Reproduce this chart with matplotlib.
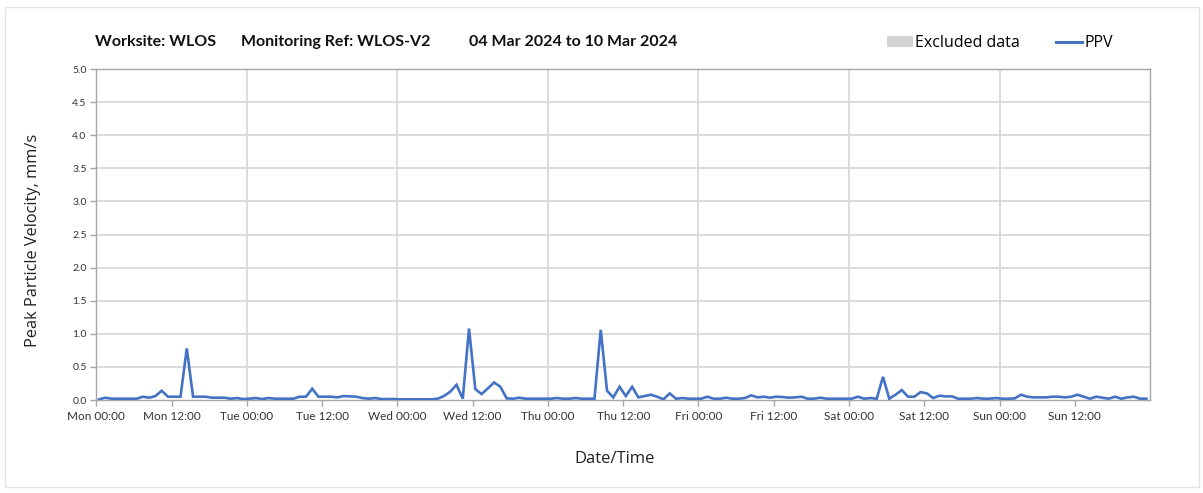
import matplotlib
matplotlib.use("Agg")
import matplotlib.pyplot as plt
import matplotlib.dates as mdates
from matplotlib.patches import Patch, Rectangle
from matplotlib.lines import Line2D
import pandas as pd


# hourly PPV readings, mm/s (one list per day, 24 values each)
ppv_mon = [0.01, 0.035, 0.02, 0.02, 0.02, 0.02, 0.02, 0.05, 0.035, 0.06, 0.14, 0.05,
           0.05, 0.05, 0.78, 0.05, 0.05, 0.05, 0.035, 0.035, 0.035, 0.02, 0.03, 0.015]
ppv_tue = [0.02, 0.03, 0.015, 0.03, 0.02, 0.02, 0.02, 0.02, 0.05, 0.05, 0.17, 0.05,
           0.05, 0.05, 0.04, 0.06, 0.055, 0.05, 0.03, 0.02, 0.03, 0.015, 0.015, 0.015]
ppv_wed = [0.01, 0.01, 0.01, 0.01, 0.01, 0.01, 0.02, 0.06, 0.125, 0.23, 0.02, 1.08,
           0.165, 0.09, 0.175, 0.265, 0.2, 0.025, 0.02, 0.035, 0.02, 0.02, 0.02, 0.02]
ppv_thu = [0.02, 0.03, 0.02, 0.02, 0.03, 0.02, 0.02, 0.02, 1.06, 0.14, 0.04, 0.2,
           0.06, 0.2, 0.04, 0.06, 0.08, 0.05, 0.01, 0.1, 0.02, 0.03, 0.02, 0.02]
ppv_fri = [0.02, 0.05, 0.02, 0.02, 0.035, 0.02, 0.02, 0.03, 0.07, 0.04, 0.05, 0.035,
           0.05, 0.045, 0.035, 0.04, 0.05, 0.02, 0.02, 0.035, 0.02, 0.02, 0.02, 0.02]
ppv_sat = [0.02, 0.05, 0.02, 0.03, 0.02, 0.35, 0.02, 0.08, 0.15, 0.05, 0.05, 0.12,
           0.1, 0.03, 0.065, 0.055, 0.055, 0.02, 0.02, 0.02, 0.03, 0.02, 0.02, 0.03]
ppv_sun = [0.02, 0.02, 0.025, 0.08, 0.05, 0.04, 0.04, 0.04, 0.05, 0.05, 0.04, 0.05,
           0.08, 0.05, 0.02, 0.05, 0.035, 0.02, 0.05, 0.02, 0.04, 0.05, 0.02, 0.02]

ppv = ppv_mon + ppv_tue + ppv_wed + ppv_thu + ppv_fri + ppv_sat + ppv_sun
times = pd.date_range("2024-03-04 00:25", periods=len(ppv), freq="h")

y_ticks = [0.0, 0.5, 1.0, 1.5, 2.0, 2.5, 3.0, 3.5, 4.0, 4.5, 5.0]
x_start = pd.Timestamp("2024-03-04 00:00")
x_end = pd.Timestamp("2024-03-11 00:00")
x_label_ticks = pd.date_range(x_start, "2024-03-10 12:00", freq="12h")
day_lines = pd.date_range("2024-03-05", "2024-03-10", freq="D")

# title is three separate blocks in the original header
title_parts = ["Worksite: WLOS", "Monitoring Ref: WLOS-V2", "04 Mar 2024 to 10 Mar 2024"]
title_x = [0.079, 0.2005, 0.390]

LINE_COLOR = "#4472C4"
GRID_COLOR = "#d9d9d9"
AXIS_COLOR = "#a6a6a6"


def main() -> None:
    fig = plt.figure(figsize=(12.03, 4.93), dpi=100)
    fig.patches.append(Rectangle((0.004, 0.012), 0.993, 0.974, transform=fig.transFigure,
                                 fill=False, edgecolor="#e3e3e3", linewidth=1.0))
    ax = fig.add_axes([0.0801, 0.1886, 0.8759, 0.6714])

    ax.plot(times, ppv, color=LINE_COLOR, linewidth=1.9, solid_joinstyle="miter", zorder=3)

    ax.set_xlim(x_start, x_end)
    ax.set_ylim(0, 5.0)
    ax.set_yticks(y_ticks)
    ax.set_yticklabels([f"{v:.1f}" for v in y_ticks])
    ax.set_xticks(x_label_ticks)
    ax.xaxis.set_major_formatter(mdates.DateFormatter("%a %H:%M"))

    for y in y_ticks[1:]:
        ax.axhline(y, color=GRID_COLOR, linewidth=1.3, zorder=1)
    for d in day_lines:
        ax.axvline(d, color=GRID_COLOR, linewidth=1.3, zorder=1)

    for side in ["left", "right", "top", "bottom"]:
        ax.spines[side].set_color(AXIS_COLOR)
        ax.spines[side].set_linewidth(1.0)
    ax.tick_params(axis="both", colors=AXIS_COLOR, length=4, width=1.0)
    ax.tick_params(axis="y", labelsize=7.5, labelcolor="#333333", pad=3)
    ax.tick_params(axis="x", labelsize=8.5, labelcolor="#333333", pad=4)
    for lbl in ax.get_xticklabels() + ax.get_yticklabels():
        lbl.set_family("Lato")

    for part, x in zip(title_parts, title_x):
        fig.text(x, 0.915, part, fontsize=11.5, fontweight="bold", family="Lato",
                 color="#111111", va="center", ha="left")
    fig.text(0.0275, 0.513, "Peak Particle Velocity, mm/s", rotation=90, fontsize=11.8,
             family="Open Sans", color="#222222", va="center", ha="center")
    fig.text(0.511, 0.068, "Date/Time", fontsize=12, family="Open Sans",
             color="#222222", va="center", ha="center")

    handles = [Patch(facecolor="#d3d3d3", edgecolor="none"),
               Line2D([0], [0], color=LINE_COLOR, linewidth=2.2)]
    fig.legend(handles, ["Excluded data", "PPV"], loc="center right",
               bbox_to_anchor=(0.937, 0.912), ncol=2, frameon=False,
               prop={"family": "Open Sans", "size": 11.5}, handlelength=1.6,
               handleheight=0.7, handletextpad=0.15, columnspacing=2.3)

    fig.savefig("out.png", dpi=100)
    plt.close(fig)


if __name__ == "__main__":
    main()
